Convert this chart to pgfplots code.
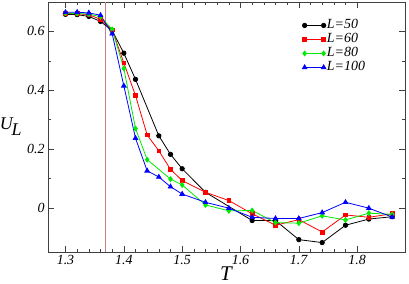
\documentclass[border=0pt]{standalone}
\usepackage{pgfplots}
\pgfplotsset{compat=1.18}
\usepackage{fontspec}
\setmainfont{Liberation Serif}
\definecolor{vline}{RGB}{200,125,130}
\definecolor{lgreen}{RGB}{0,235,0}

\begin{document}
\begin{tikzpicture}
\useasboundingbox (0,0) rectangle (409bp,284bp);
\begin{axis}[
  at={(48bp,32bp)}, anchor=south west,
  scale only axis,
  width=357bp, height=250bp,
  xmin=1.27, xmax=1.882,
  ymin=-0.15, ymax=0.7,
  xtick={1.3,1.4,1.5,1.6,1.7,1.8},
  ytick={0,0.2,0.4,0.6},
  minor x tick num=4,
  minor y tick num=1,
  tick align=inside,
  major tick length=6bp,
  minor tick length=3bp,
  axis line style={black!75, line width=0.9bp},
  every tick/.style={black!75, line width=0.6bp},
  xticklabel={\textit{\pgfmathprintnumber[assume math mode=true]{\tick}}},
  yticklabel={\textit{\pgfmathprintnumber[assume math mode=true]{\tick}}},
  tick label style={font=\fontsize{14}{14}\selectfont},
  xlabel={\textit{T}},
  ylabel={\textit{U}$_{\!\textit{L}}$},
  xlabel style={font=\fontsize{21}{21}\selectfont, yshift=5bp},
  ylabel style={font=\fontsize{18}{18}\selectfont, rotate=-90, xshift=2bp},
  legend style={draw=none, fill=none, at={(0.712,0.935)}, anchor=north west,
    font=\fontsize{14}{14}\selectfont\itshape, row sep=0bp,
    inner sep=0pt, nodes={inner sep=1bp, text height=9.5bp, text depth=2.5bp}},
  legend cell align=left,
  legend image code/.code={
    \draw[mark repeat=2,mark phase=1,#1] plot coordinates {(0bp,0bp) (9.5bp,0bp) (19bp,0bp)};
  },
  every axis plot/.append style={line width=0.8bp},
]
\draw[vline, line width=0.8bp] (axis cs:1.368,-0.15) -- (axis cs:1.368,0.7);

\addplot[black, mark=*, mark size=2.2bp] coordinates {
  (1.30,0.658) (1.32,0.657) (1.34,0.651) (1.36,0.634) (1.38,0.603)
  (1.40,0.526) (1.42,0.437) (1.46,0.245) (1.48,0.182) (1.50,0.133)
  (1.54,0.053) (1.62,-0.043) (1.66,-0.043) (1.70,-0.108) (1.74,-0.118)
  (1.78,-0.059) (1.82,-0.038) (1.86,-0.030)
};
\addlegendentry{L=50}

\addplot[red, mark=square*, mark size=1.9bp] coordinates {
  (1.30,0.661) (1.32,0.660) (1.34,0.657) (1.36,0.641) (1.38,0.605)
  (1.40,0.493) (1.42,0.382) (1.44,0.248) (1.46,0.194) (1.48,0.131)
  (1.50,0.093) (1.54,0.053) (1.58,0.025) (1.62,-0.020) (1.66,-0.059)
  (1.70,-0.040) (1.74,-0.082) (1.78,-0.024) (1.82,-0.032) (1.86,-0.020)
};
\addlegendentry{L=60}

\addplot[lgreen, mark=diamond*, mark size=2.4bp] coordinates {
  (1.30,0.662) (1.32,0.661) (1.34,0.659) (1.36,0.650) (1.38,0.607)
  (1.40,0.474) (1.42,0.270) (1.44,0.164) (1.48,0.098) (1.50,0.078)
  (1.54,0.010) (1.58,-0.010) (1.62,-0.009) (1.66,-0.050) (1.70,-0.052)
  (1.74,-0.027) (1.78,-0.041) (1.82,-0.018) (1.86,-0.022)
};
\addlegendentry{L=80}

\addplot[blue, mark=triangle*, mark size=2.6bp] coordinates {
  (1.30,0.665) (1.32,0.665) (1.34,0.663) (1.36,0.655) (1.38,0.592)
  (1.40,0.415) (1.42,0.237) (1.44,0.126) (1.46,0.105) (1.48,0.072)
  (1.50,0.047) (1.54,0.019) (1.58,-0.001) (1.62,-0.032) (1.66,-0.036)
  (1.70,-0.036) (1.74,-0.016) (1.78,0.019) (1.82,-0.001) (1.86,-0.031)
};
\addlegendentry{L=100}
\end{axis}
\end{tikzpicture}
\end{document}
